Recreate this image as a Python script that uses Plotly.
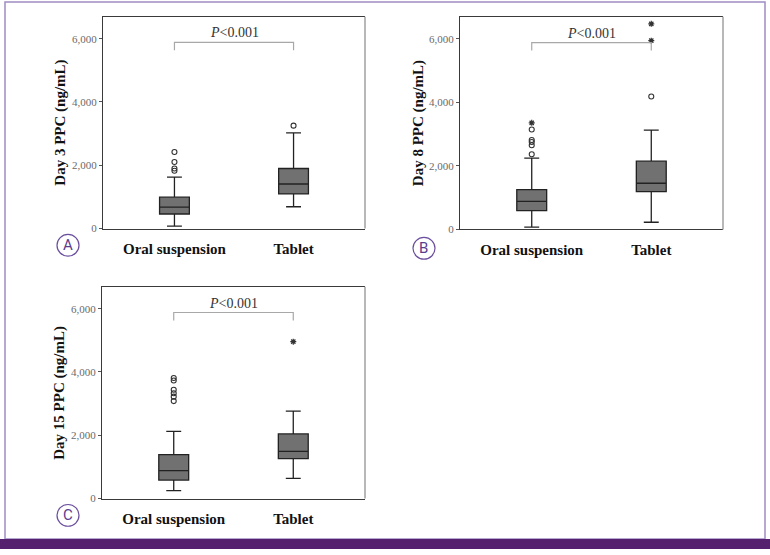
import plotly.graph_objects as go

W, H = 770, 555

categories = ["Oral suspension", "Tablet"]
panel_letters = ["A", "B", "C"]
y_titles = ["Day 3 PPC (ng/mL)", "Day 8 PPC (ng/mL)", "Day 15 PPC (ng/mL)"]
y_tick_vals = [0, 2000, 4000, 6000]
y_tick_text = ["0", "2,000", "4,000", "6,000"]
p_label = "<i>P</i>&lt;0.001"

# Day 3
day3_q1 = [458, 1094]
day3_median = [677, 1406]
day3_q3 = [990, 1896]
day3_lower = [73, 688]
day3_upper = [1625, 3021]
day3_out_oral = [1823, 1896, 2104, 2417]
day3_out_tablet = [3250]
day3_ext_oral = []
day3_ext_tablet = []

# Day 8
day8_q1 = [592, 1194]
day8_median = [883, 1454]
day8_q3 = [1256, 2150]
day8_lower = [73, 228]
day8_upper = [2243, 3126]
day8_out_oral = [2368, 2648, 2752, 2814, 3146]
day8_out_tablet = [4185]
day8_ext_oral = [3354]
day8_ext_tablet = [5940, 6469]

# Day 15
day15_q1 = [583, 1260]
day15_median = [885, 1490]
day15_q3 = [1385, 2042]
day15_lower = [250, 635]
day15_upper = [2125, 2760]
day15_out_oral = [3080, 3220, 3330, 3440, 3730, 3810]
day15_out_tablet = []
day15_ext_oral = []
day15_ext_tablet = [4958]

bracket_top = 5880
bracket_bottom = 5630
p_text_y = 6180
y_max = 6690

panels = [
    (day3_q1, day3_median, day3_q3, day3_lower, day3_upper,
     day3_out_oral, day3_out_tablet, day3_ext_oral, day3_ext_tablet),
    (day8_q1, day8_median, day8_q3, day8_lower, day8_upper,
     day8_out_oral, day8_out_tablet, day8_ext_oral, day8_ext_tablet),
    (day15_q1, day15_median, day15_q3, day15_lower, day15_upper,
     day15_out_oral, day15_out_tablet, day15_ext_oral, day15_ext_tablet),
]

# plot boxes in pixels: (left, top, right, bottom)
boxes_px = [(103, 17, 365, 231), (460, 17, 723, 232), (102, 290, 365, 504)]
circles_px = [(68, 248), (424, 251), (68, 521)]

SERIF = "Liberation Serif"
fig = go.Figure()
layout = dict(
    width=W, height=H, margin=dict(l=0, r=0, t=0, b=0),
    paper_bgcolor="white", plot_bgcolor="white", showlegend=False,
)
shapes = []
annotations = []

for i, data in enumerate(panels):
    q1, med, q3, lo, up, oo, ot, eo, et = data
    n = "" if i == 0 else str(i + 1)
    xa, ya = "x" + n, "y" + n
    for j, cat in enumerate(categories):
        fig.add_trace(go.Box(
            x=[cat], q1=[q1[j]], median=[med[j]], q3=[q3[j]],
            lowerfence=[lo[j]], upperfence=[up[j]],
            width=0.25, whiskerwidth=0.5, boxpoints=False,
            fillcolor="#717171", line=dict(color="#222222", width=1.3),
            xaxis=xa, yaxis=ya, hoverinfo="skip",
        ))
    for cat, vals in ((categories[0], oo), (categories[1], ot)):
        if vals:
            fig.add_trace(go.Scatter(
                x=[cat] * len(vals), y=vals, mode="markers",
                marker=dict(symbol="circle-open", size=5, color="#333333",
                            line=dict(width=1.1, color="#333333")),
                xaxis=xa, yaxis=ya, hoverinfo="skip"))
    for cat, vals in ((categories[0], eo), (categories[1], et)):
        if vals:
            fig.add_trace(go.Scatter(
                x=[cat] * len(vals), y=vals, mode="markers",
                marker=dict(symbol="asterisk-open", size=5, color="#333333",
                            line=dict(width=1.2, color="#333333")),
                xaxis=xa, yaxis=ya, hoverinfo="skip"))
    # significance bracket
    fig.add_trace(go.Scatter(
        x=[categories[0], categories[0], categories[1], categories[1]],
        y=[bracket_bottom, bracket_top, bracket_top, bracket_bottom],
        mode="lines", line=dict(color="#a8a8a8", width=1.2),
        xaxis=xa, yaxis=ya, hoverinfo="skip"))
    annotations.append(dict(
        x=0.5, y=p_text_y, xref=xa, yref=ya, text=p_label, showarrow=False,
        xanchor="center", yanchor="middle",
        font=dict(family=SERIF, size=14, color="#333333")))

    l, t, r, b = boxes_px[i]
    layout["xaxis" + n] = dict(
        domain=[l / W, r / W], anchor=ya, type="category",
        categoryorder="array", categoryarray=categories,
        range=[-0.6, 1.6], showline=True, linecolor="#3a3a3a", linewidth=1.3,
        mirror=True, ticks="", showgrid=False, zeroline=False,
        tickfont=dict(family=SERIF, size=15, color="#111111", weight="bold"),
        ticklabelstandoff=6,
    )
    layout["yaxis" + n] = dict(
        domain=[(H - b) / H, (H - t) / H], anchor=xa,
        range=[0, y_max], showline=True, linecolor="#3a3a3a", linewidth=1.3,
        ticks="outside", ticklen=3, tickcolor="#555555", showgrid=False,
        zeroline=False, tickvals=y_tick_vals, ticktext=y_tick_text,
        tickfont=dict(family=SERIF, size=11, color="#6a6a6a"),
        ticklabelstandoff=0,
    )
    # lighter right border
    shapes.append(dict(type="line", xref=xa + " domain", yref=ya + " domain",
                       x0=1, x1=1, y0=0, y1=1,
                       line=dict(color="#a0a0a0", width=1.5)))
    # y title
    annotations.append(dict(
        x=(l - 42) / W, y=(H - (t + b) / 2) / H, xref="paper", yref="paper",
        xanchor="center", yanchor="middle",
        text="<b>%s</b>" % y_titles[i], textangle=-90, showarrow=False,
        font=dict(family=SERIF, size=15, color="#111111")))
    # circled letter
    cx, cy = circles_px[i]
    shapes.append(dict(type="circle", xref="paper", yref="paper",
                       x0=(cx - 11) / W, x1=(cx + 11) / W,
                       y0=(H - cy - 11) / H, y1=(H - cy + 11) / H,
                       line=dict(color="#6b4f9e", width=1.2)))
    annotations.append(dict(
        x=cx / W, y=(H - cy) / H, xref="paper", yref="paper",
        xanchor="center", yanchor="middle",
        text=panel_letters[i], showarrow=False,
        font=dict(family="Roboto", size=15, color="#5a3d8e")))

# outer frame and bottom bar
shapes.append(dict(type="rect", xref="paper", yref="paper",
                   x0=5 / W, x1=765 / W, y0=(H - 545) / H, y1=(H - 2) / H,
                   line=dict(color="#a08cc4", width=1.5), layer="below"))
shapes.append(dict(type="rect", xref="paper", yref="paper",
                   x0=0, x1=1, y0=0, y1=(H - 545) / H,
                   fillcolor="#55216f", line=dict(width=0)))

layout["shapes"] = shapes
layout["annotations"] = annotations
fig.update_layout(**layout)
fig.write_html("out.html", config={"displayModeBar": False},
               post_script="document.body.style.margin='0';document.body.style.overflow='hidden';")
